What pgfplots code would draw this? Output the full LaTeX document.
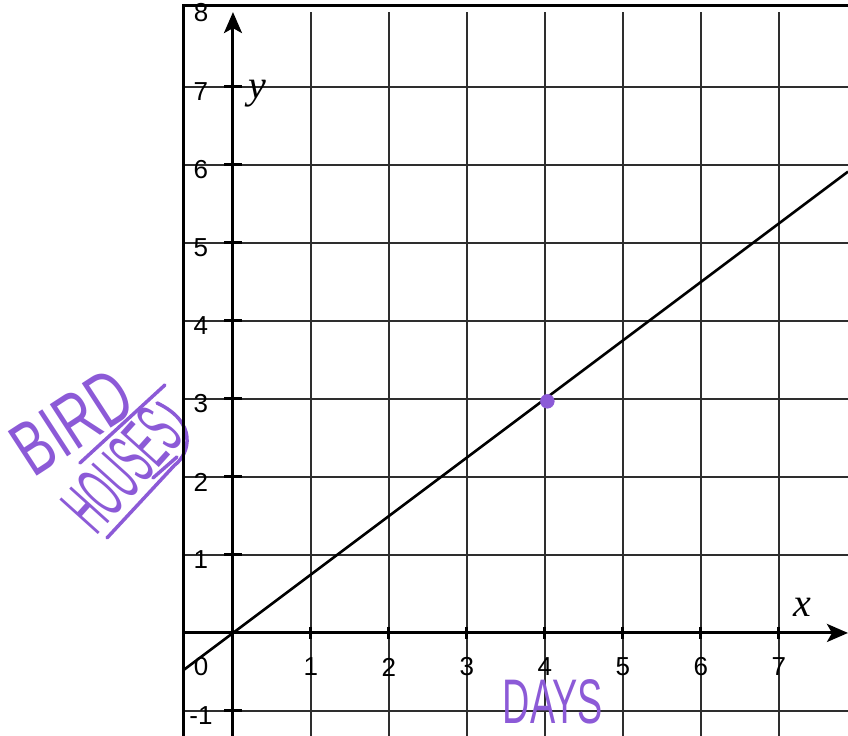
\documentclass[border=0pt]{standalone}
\usepackage{fontspec}
\setmainfont{Liberation Sans}
\newfontfamily\seriffont{Liberation Serif}
\usepackage{graphicx}
\usepackage{pgfplots}
\pgfplotsset{compat=1.18}
\usetikzlibrary{arrows.meta}
\definecolor{handpurple}{HTML}{8C5AD7}
\begin{document}
\begin{tikzpicture}
\begin{axis}[
  x=78pt, y=78pt,
  xmin=-0.641, xmax=7.885, ymin=-1.32, ymax=7.96,
  axis x line=middle, axis y line=middle,
  axis line style={line width=3pt, black, -{Stealth[length=21pt, width=18pt, inset=5pt]}},
  xtick={1,...,7}, ytick={-1,1,2,3,4,5,6,7},
  yticklabels={-1,1,2,3,4,5,6,7},
  grid=major,
  major grid style={line width=2.3pt, black!82},
  major tick length=0pt,
  xticklabel style={anchor=center, yshift=-34pt, font=\fontsize{26}{26}\selectfont},
  yticklabel style={anchor=center, xshift=-32pt, yshift=-5pt, font=\fontsize{26}{26}\selectfont},
  /pgf/number format/assume math mode=true,
  clip=false,
]
\addplot[black, line width=2.6pt] coordinates {(-0.641,-0.481) (7.885,5.914)};
\addplot[only marks, mark=*, mark size=7pt, handpurple] coordinates {(4.03,2.97)};

\pgfplotsinvokeforeach{1,...,7}{
  \draw[line width=3pt, black] (axis cs:#1,-0.08) -- (axis cs:#1,0.08);
}
\pgfplotsinvokeforeach{-1,1,2,3,4,5,6,7}{
  \draw[line width=3pt, black] (axis cs:-0.11,#1) -- (axis cs:0.11,#1);
}

\node[font=\fontsize{26}{26}\selectfont] at (axis cs:-0.41,-0.436) {0};
\node[font=\fontsize{26}{26}\selectfont] at (axis cs:-0.41,7.95) {8};
\node[font=\seriffont\itshape\fontsize{40}{40}\selectfont] at (axis cs:7.295,0.333) {x};
\node[font=\seriffont\itshape\fontsize{40}{40}\selectfont] at (axis cs:0.31,6.91) {y};

\node[handpurple, rotate=33, font=\fontsize{77}{77}\selectfont] at (axis cs:-2.064,2.705) {\scalebox{0.68}[1]{BIRD}};
\node[handpurple, rotate=48, font=\fontsize{75}{75}\selectfont] at (axis cs:-1.423,2.09) {\scalebox{0.42}[1]{HOUSES}};
\node[handpurple, font=\fontsize{63}{63}\selectfont] at (axis cs:4.10,-0.885) {\scalebox{0.6}[1]{DAYS}};
\draw[handpurple, line width=3.5pt, line cap=round] (axis cs:-1.962,2.179) -- (axis cs:-0.872,3.179);
\draw[handpurple, line width=3.5pt, line cap=round] (axis cs:-0.974,2.949) .. controls (axis cs:-0.45,2.7) and (axis cs:-0.55,2.3) .. (axis cs:-0.75,2.15) -- (axis cs:-1.615,1.218);
\draw[handpurple, line width=3.5pt, line cap=round] (axis cs:-1.026,1.987) -- (axis cs:-0.718,2.256);

\draw[line width=3.2pt, black] (axis cs:-0.635,-1.32) -- (axis cs:-0.635,8.04) -- (axis cs:7.885,8.04);

\coordinate (BL) at (axis cs:-2.987,-1.32);
\coordinate (TR) at (axis cs:7.885,8.115);
\end{axis}
\pgfresetboundingbox
\path[use as bounding box] (BL) rectangle (TR);
\end{tikzpicture}
\end{document}
